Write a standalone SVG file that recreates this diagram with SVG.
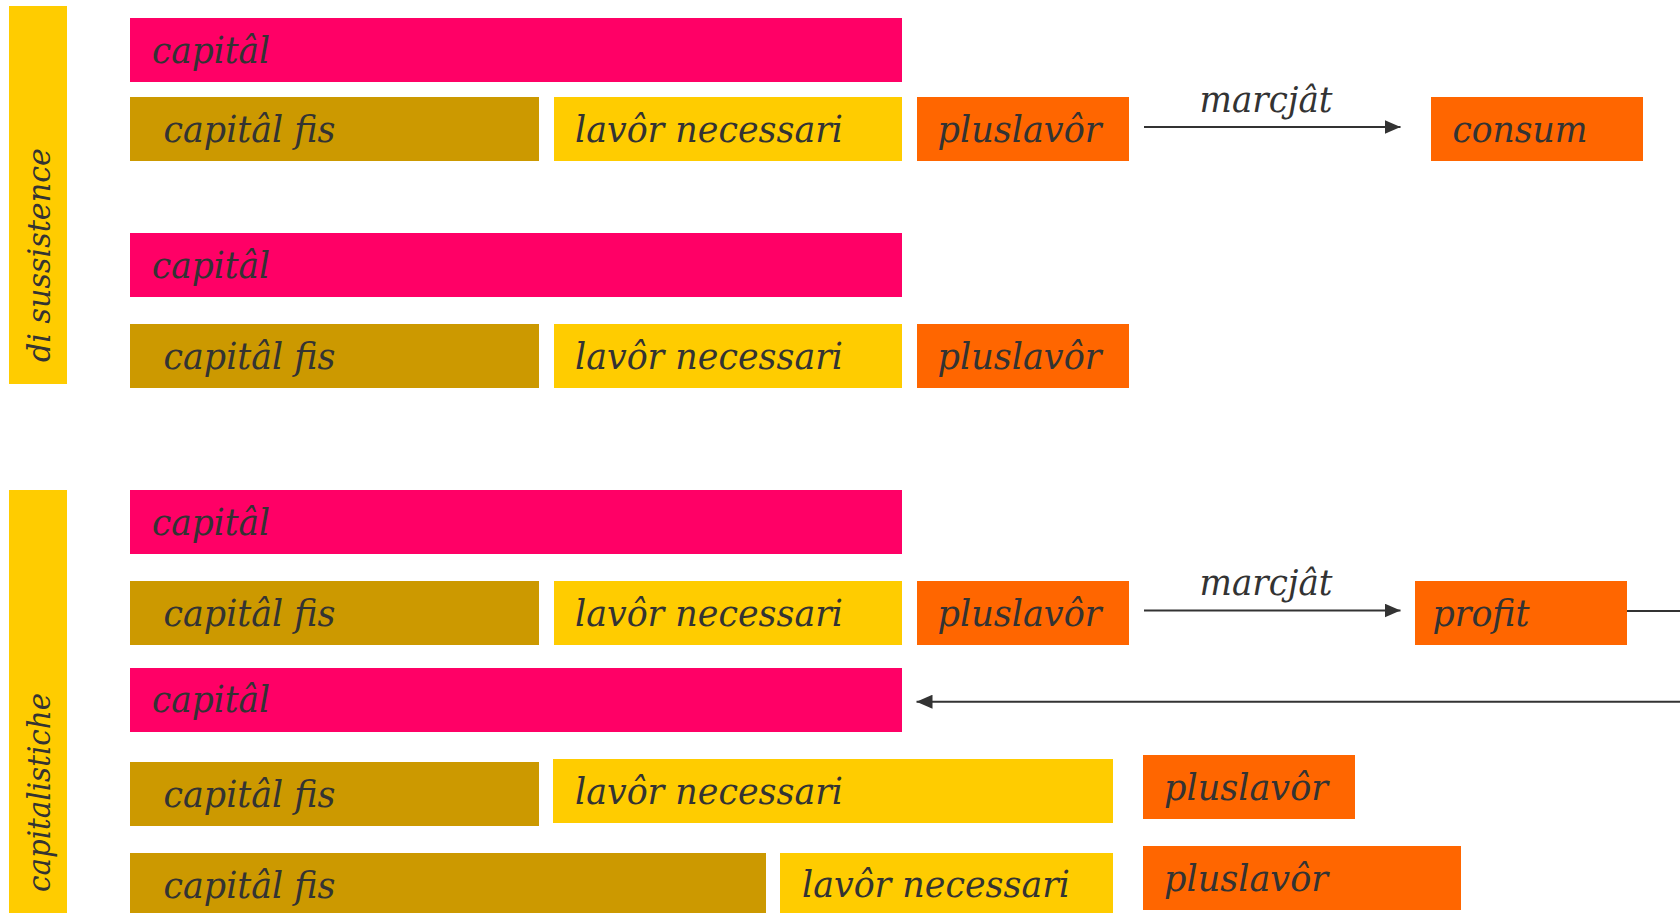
<svg xmlns="http://www.w3.org/2000/svg" width="1680" height="913" viewBox="0 0 1680 913">
<defs>
<style>
.pink{fill:#FF0066}
.olive{fill:#CC9900}
.yel{fill:#FFCC00}
.org{fill:#FF6600}
text{font-family:"DejaVu Serif","Liberation Serif",serif;font-style:italic;fill:#333333}
.t{font-size:37px}
.lbl{font-size:35px}
.side{font-size:32px}
.conn{stroke:#333333;stroke-width:2;fill:none}
</style>
<marker id="ah" markerWidth="16" markerHeight="14" refX="16" refY="7" orient="auto" markerUnits="userSpaceOnUse">
<path d="M0,0 L16,7 L0,14 Z" fill="#333333"/>
</marker>
</defs>
<rect width="1680" height="913" fill="#ffffff"/>

<g id="side-sussistence">
<rect class="yel" x="9" y="6" width="58" height="378"/>
<text class="side" transform="translate(50,362) rotate(-90)" textLength="214" lengthAdjust="spacingAndGlyphs">di sussistence</text>
</g>
<g id="side-capitalistiche">
<rect class="yel" x="9" y="490" width="58" height="423"/>
<text class="side" transform="translate(50,892) rotate(-90)" textLength="199" lengthAdjust="spacingAndGlyphs">capitalistiche</text>
</g>

<g id="capital1"><rect class="pink" x="130" y="18" width="772" height="64"/><text class="t" x="152" y="63" textLength="118" lengthAdjust="spacingAndGlyphs">capitâl</text></g>
<g id="fis1"><rect class="olive" x="130" y="97" width="409" height="64"/><text class="t" x="163.5" y="142" textLength="172" lengthAdjust="spacingAndGlyphs">capitâl fis</text></g>
<g id="nec1"><rect class="yel" x="554" y="97" width="348" height="64"/><text class="t" x="575" y="142" textLength="268" lengthAdjust="spacingAndGlyphs">lavôr necessari</text></g>
<g id="plus1"><rect class="org" x="917" y="97" width="212" height="64"/><text class="t" x="937.5" y="142" textLength="164" lengthAdjust="spacingAndGlyphs">pluslavôr</text></g>
<g id="consum"><rect class="org" x="1431" y="97" width="212" height="64"/><text class="t" x="1452.5" y="142" textLength="135" lengthAdjust="spacingAndGlyphs">consum</text></g>

<g id="capital2"><rect class="pink" x="130" y="233" width="772" height="64"/><text class="t" x="152" y="278" textLength="118" lengthAdjust="spacingAndGlyphs">capitâl</text></g>
<g id="fis2"><rect class="olive" x="130" y="324" width="409" height="64"/><text class="t" x="163.5" y="369" textLength="172" lengthAdjust="spacingAndGlyphs">capitâl fis</text></g>
<g id="nec2"><rect class="yel" x="554" y="324" width="348" height="64"/><text class="t" x="575" y="369" textLength="268" lengthAdjust="spacingAndGlyphs">lavôr necessari</text></g>
<g id="plus2"><rect class="org" x="917" y="324" width="212" height="64"/><text class="t" x="937.5" y="369" textLength="164" lengthAdjust="spacingAndGlyphs">pluslavôr</text></g>

<g id="capital3"><rect class="pink" x="130" y="490" width="772" height="64"/><text class="t" x="152" y="535" textLength="118" lengthAdjust="spacingAndGlyphs">capitâl</text></g>
<g id="fis3"><rect class="olive" x="130" y="581" width="409" height="64"/><text class="t" x="163.5" y="626" textLength="172" lengthAdjust="spacingAndGlyphs">capitâl fis</text></g>
<g id="nec3"><rect class="yel" x="554" y="581" width="348" height="64"/><text class="t" x="575" y="626" textLength="268" lengthAdjust="spacingAndGlyphs">lavôr necessari</text></g>
<g id="plus3"><rect class="org" x="917" y="581" width="212" height="64"/><text class="t" x="937.5" y="626" textLength="164" lengthAdjust="spacingAndGlyphs">pluslavôr</text></g>
<g id="profit"><rect class="org" x="1415" y="581" width="212" height="64"/><text class="t" x="1432.5" y="625.5" textLength="97" lengthAdjust="spacingAndGlyphs">profit</text></g>

<g id="capital4"><rect class="pink" x="130" y="668" width="772" height="64"/><text class="t" x="152" y="712" textLength="118" lengthAdjust="spacingAndGlyphs">capitâl</text></g>
<g id="fis4"><rect class="olive" x="130" y="762" width="409" height="64"/><text class="t" x="163.5" y="807" textLength="172" lengthAdjust="spacingAndGlyphs">capitâl fis</text></g>
<g id="nec4"><rect class="yel" x="553" y="759" width="560" height="64"/><text class="t" x="575" y="803.5" textLength="268" lengthAdjust="spacingAndGlyphs">lavôr necessari</text></g>
<g id="plus4"><rect class="org" x="1143" y="755" width="212" height="64"/><text class="t" x="1164" y="800" textLength="164" lengthAdjust="spacingAndGlyphs">pluslavôr</text></g>

<g id="fis5"><rect class="olive" x="130" y="853" width="636" height="64"/><text class="t" x="163.5" y="897.5" textLength="172" lengthAdjust="spacingAndGlyphs">capitâl fis</text></g>
<g id="nec5"><rect class="yel" x="780" y="853" width="333" height="64"/><text class="t" x="802" y="897" textLength="268" lengthAdjust="spacingAndGlyphs">lavôr necessari</text></g>
<g id="plus5"><rect class="org" x="1143" y="846" width="318" height="64"/><text class="t" x="1164" y="891" textLength="164" lengthAdjust="spacingAndGlyphs">pluslavôr</text></g>

<g id="connectors">
<line class="conn" x1="1144" y1="127" x2="1400.5" y2="127" marker-end="url(#ah)"/>
<text class="lbl" x="1199.5" y="112" textLength="133" lengthAdjust="spacingAndGlyphs">marcjât</text>
<line class="conn" x1="1144" y1="610.5" x2="1400.5" y2="610.5" marker-end="url(#ah)"/>
<text class="lbl" x="1199.5" y="595" textLength="133" lengthAdjust="spacingAndGlyphs">marcjât</text>
<path class="conn" d="M1627,611 L1720,611 L1720,701.7 L916.5,701.7" marker-end="url(#ah)"/>
</g>
</svg>
